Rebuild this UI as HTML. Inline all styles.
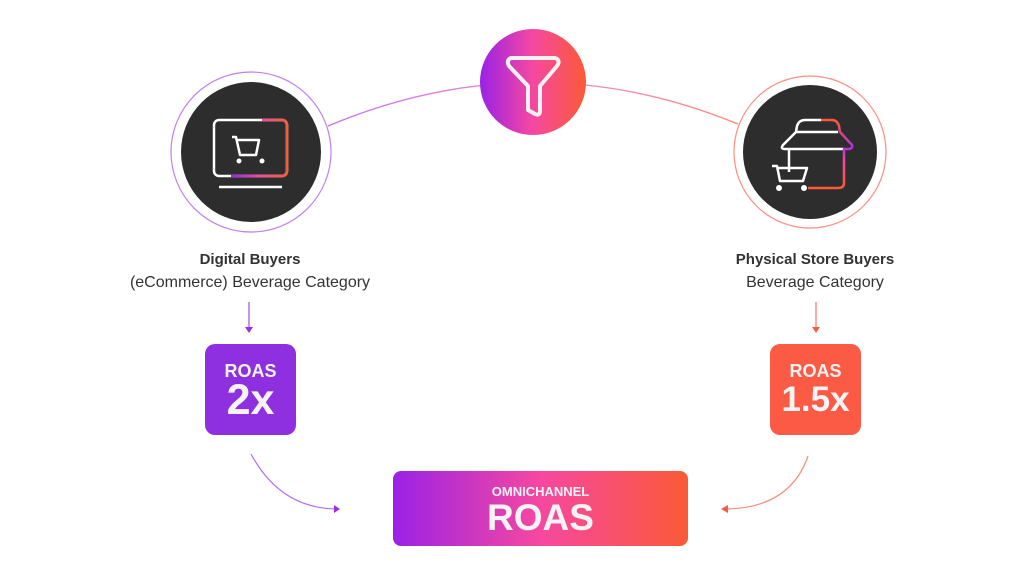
<!DOCTYPE html>
<html><head><meta charset="utf-8"><style>
body{margin:0;width:1024px;height:576px;background:#fff;overflow:hidden;font-family:"Liberation Sans",sans-serif;position:relative}
.t{position:absolute;text-align:center;color:#333;font-size:16px}
.box{position:absolute;border-radius:10px;color:#f4f4f4;text-align:center;font-weight:bold}
</style></head><body>
<svg width="1024" height="576" style="position:absolute;left:0;top:0">
<defs>
<linearGradient id="g" x1="0" x2="1" y1="0" y2="0"><stop offset="0" stop-color="#9a22e6"/><stop offset=".5" stop-color="#f648a0"/><stop offset="1" stop-color="#fb5a36"/></linearGradient>
<linearGradient id="g2" x1="0" x2="0" y1="0" y2="1"><stop offset="0" stop-color="#fb5a36"/><stop offset=".4" stop-color="#b030e0"/><stop offset=".6" stop-color="#f648a0"/><stop offset="1" stop-color="#fb5a36"/></linearGradient>
<linearGradient id="arc" x1="0" x2="1"><stop offset="0" stop-color="#c471f0"/><stop offset=".5" stop-color="#f088c8"/><stop offset="1" stop-color="#fb8a7a"/></linearGradient>
</defs>
<path d="M328 126 Q533 40 738 124" fill="none" stroke="url(#arc)" stroke-width="1.3"/>
<circle cx="251" cy="152" r="80" fill="#fff" stroke="#c27ef0" stroke-width="1.2"/>
<circle cx="251" cy="152" r="70" fill="#2d2d2d"/>
<circle cx="810" cy="152" r="76" fill="#fff" stroke="#fb8f7d" stroke-width="1.2"/>
<circle cx="810" cy="152" r="67" fill="#2d2d2d"/>
<circle cx="533" cy="82" r="53" fill="url(#g)"/>
<path d="M511 58 L555 58 Q561 60 557 66 L540 86 L540 112 Q539 116 535 114 L528 110 L528 86 L509 66 Q506 60 511 58Z" fill="none" stroke="#f2f2f2" stroke-width="4" stroke-linejoin="round"/>
<!-- monitor -->
<rect x="214" y="120" width="73" height="56" rx="5" fill="none" stroke="#fff" stroke-width="2.5"/>
<path d="M231 176 H282 Q287 176 287 171 V125 Q287 120 282 120 H262" fill="none" stroke="url(#g)" stroke-width="2.5"/>
<path d="M219 187 H282" stroke="#fff" stroke-width="2.5"/>
<path d="M232 137 H236 L240 155 H256 L259 140 H237" fill="none" stroke="#fff" stroke-width="2.5" stroke-linejoin="round"/>
<circle cx="239" cy="161" r="2.5" fill="#fff"/><circle cx="262" cy="161" r="2.5" fill="#fff"/>
<!-- store -->
<path d="M821 120 H805 Q799 120 797 126 L796 132 L783 145 Q780 149 785 149 H844 M796 132 H838" fill="none" stroke="#fff" stroke-width="2.5" stroke-linejoin="round"/>
<path d="M821 120 H832 Q837 120 839 126 L840 132 L852 145 Q853 149 848 149 H844 V183 Q844 188 838 188 H808" fill="none" stroke="url(#g2)" stroke-width="2.5" stroke-linejoin="round"/>
<path d="M789 149 V172" fill="none" stroke="#fff" stroke-width="2.5"/>
<path d="M772 166 H777 L780 181 H803 L807 168 H778" fill="none" stroke="#fff" stroke-width="2.5" stroke-linejoin="round"/>
<circle cx="779" cy="188" r="3" fill="#fff"/><circle cx="804" cy="188" r="3" fill="#fff"/>
<!-- arrows -->
<path d="M249 302 V328" stroke="#a24ae6" stroke-width="1.2"/><path d="M245 327 L253 327 L249 333Z" fill="#9a30e6"/>
<path d="M816 302 V328" stroke="#fb7060" stroke-width="1.2"/><path d="M812 327 L820 327 L816 333Z" fill="#fb5a45"/>
<path d="M251 454 Q280 508 336 509" fill="none" stroke="#b66ef0" stroke-width="1.2"/><path d="M334 505 L340 509 L334 513Z" fill="#9a30e6"/>
<path d="M808 456 Q790 508 726 509" fill="none" stroke="#fb8a7a" stroke-width="1.2"/><path d="M728 505 L721 509 L728 513Z" fill="#fb5a45"/>
</svg>
<div class="t" style="left:130px;top:251px;width:240px;font-weight:bold;font-size:15px">Digital Buyers</div>
<div class="t" style="left:100px;top:274px;width:300px">(eCommerce) Beverage Category</div>
<div class="t" style="left:690px;top:251px;width:250px;font-weight:bold;font-size:15px">Physical Store Buyers</div>
<div class="t" style="left:700px;top:274px;width:230px">Beverage Category</div>
<div class="box" style="left:205px;top:344px;width:91px;height:91px;background:#8e2fe0">
<div style="font-size:18px;margin-top:18px;line-height:18px">ROAS</div><div style="font-size:43px;line-height:40px">2x</div></div>
<div class="box" style="left:770px;top:344px;width:91px;height:91px;background:#fb5a45">
<div style="font-size:18px;margin-top:18px;line-height:18px">ROAS</div><div style="font-size:35px;line-height:40px">1.5x</div></div>
<div class="box" style="left:393px;top:471px;width:295px;height:75px;background:linear-gradient(90deg,#9a22e6,#f648a0 50%,#fb5a36);border-radius:8px">
<div style="font-size:13px;margin-top:13px;line-height:16px">OMNICHANNEL</div><div style="font-size:37px;line-height:36px">ROAS</div></div>
</body></html>
